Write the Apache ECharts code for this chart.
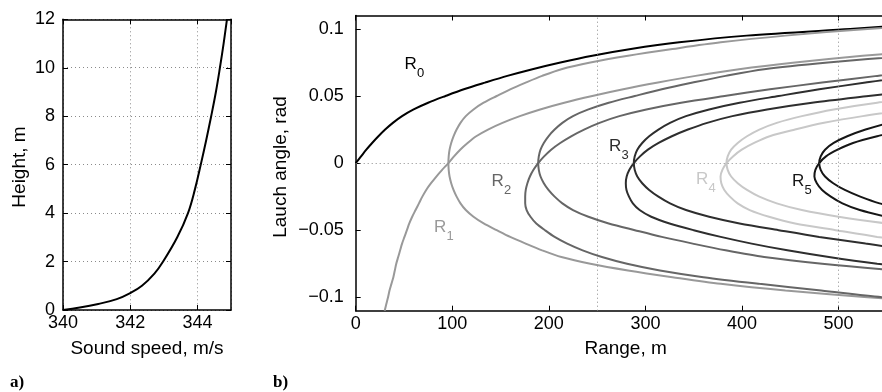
<!DOCTYPE html>
<html><head><meta charset="utf-8">
<script src="https://cdn.jsdelivr.net/npm/echarts@6/dist/echarts.min.js"></script>
<style>html,body{margin:0;padding:0;background:#fff}#c{width:882px;height:392px}</style>
</head><body><div id="c"></div>
<script>
// ---------- panel a: sound speed profile ----------
const heightM    = [0, 0.1, 0.25, 0.45, 0.7, 1.0, 1.5, 2, 3, 4, 5, 6, 7, 8, 9, 10, 11, 12];
const soundSpeed = [340, 340.5, 341.05, 341.6, 342, 342.35, 342.72, 342.98, 343.4, 343.72, 343.93, 344.1, 344.26, 344.41, 344.55, 344.67, 344.78, 344.88];

// ---------- panel b: range (m) of each ray branch vs launch angle (rad) ----------
const launchAngle = [-0.11,-0.105,-0.1,-0.095,-0.09,-0.085,-0.08,-0.075,-0.07,-0.065,-0.06,-0.055,-0.05,-0.045,-0.04,-0.035,-0.03,-0.025,-0.02,-0.015,-0.01,-0.005,
  0,0.005,0.01,0.015,0.02,0.025,0.03,0.035,0.04,0.045,0.05,0.055,0.06,0.065,0.07,0.075,0.08,0.085,0.09,0.095,0.1,0.105,0.11];
const n = null;
const rangeR0  = [n,n,n,n,n,n,n,n,n,n,n,n,n,n,n,n,n,n,n,n,n,n,
  0,5.5,11,17,23.5,30.5,38.5,48,60,75,93,112,134,157,183,212,245,285,335,405,512,620,750];
const rangeR1a = [30,31.7,33.5,35,37,39,40.5,42,44,46,48,50.5,53,55.5,58.5,62,65.5,69,73,78,83.5,89.5,
  96,101.8,108.2,115.9,124.8,137,152,170,191,216,245,277,313,352,397,455,525,610,n,n,n,n,n];
const rangeR1b = [780,640,530,445,378,328,282,243,213,193,176,160,146,132.5,122,114,108.5,104.5,101.3,98.9,97.2,96.3,
  96,96.3,97.2,98.9,101.3,104.5,108.5,114,122,132.5,146,160,176,193,213,243,282,328,378,445,530,640,780];
const rangeR2a = [807,657,545,482,418,360,315,281,255,235,219,206,196,187,181,177,175.5,175.5,176.1,177.8,180.4,184.1,
  189,195.1,202.4,211.8,223.1,236.5,252.5,273,301,337,382,429,483,540,606,n,n,n,n,n,n,n,n];
const rangeR2b = [n,n,n,n,n,653,561,483,423,383,349,317,289,262,241,225,214,206,199.6,194.8,191.4,189.6,
  189,189.6,191.4,194.8,199.6,206,214,225,241,262,289,317,349,383,423,489,572,653,n,n,n,n,n];
const rangeR3a = [n,n,n,n,n,670,600,540,490,447,410,378,350,325,306,294,287,283,280.4,279.7,280.6,283.4,
  288,294.4,302.6,313.7,327.4,344,364,390,426,472.5,531,592,n,n,n,n,n,n,n,n,n,n,n];
const rangeR3b = [n,n,n,n,n,n,n,n,639,579,528,480,438,397.5,366,342,325.5,313.5,303.9,296.7,291.6,288.9,
  288,288.9,291.6,296.7,303.9,313.5,325.5,342,366,397.5,438,480,528,579,639,n,n,n,n,n,n,n,n];
const rangeR4a = [n,n,n,n,n,n,n,n,n,n,590,540,497,455,428,408,395.5,387.5,381.7,378.6,377.8,379.7,
  384,390.7,399.8,412.6,428.7,455,485,525,575,n,n,n,n,n,n,n,n,n,n,n,n,n,n];
const rangeR4b = [n,n,n,n,n,n,n,n,n,n,n,n,610,550,500,462,436,418,405.2,395.6,388.8,385.2,
  384,385.2,388.8,395.6,405.2,418,436,462,495,540,600,n,n,n,n,n,n,n,n,n,n,n,n];
const rangeR5a = [n,n,n,n,n,n,n,n,n,n,n,n,n,n,550,522,504,492,483,477.5,475,476,
  480,487,499,515,540,570,n,n,n,n,n,n,n,n,n,n,n,n,n,n,n,n,n];
const rangeR5b = [n,n,n,n,n,n,n,n,n,n,n,n,n,n,n,570,542.5,522.5,506.5,494.5,486,481.5,
  480,481.5,486,495,509,528,552,580,n,n,n,n,n,n,n,n,n,n,n,n,n,n,n];

const rayLabels = ['0','1','2','3','4','5'];
const labelAnchor = [[50.5,0.0694],[81.2,-0.0522],[140.5,-0.0179],[262.3,0.0082],[352.4,-0.0164],[451.7,-0.0179]];
const rayColors = ['#000000','#999999','#666666','#2e2e2e','#c8c8c8','#161616'];

const FONT = 'Liberation Sans, Arial, Helvetica, sans-serif';
const chart = echarts.init(document.getElementById('c'), null, {renderer:'canvas'});

function pairs(arr){ const out=[]; arr.forEach((r,i)=>{ if(r!==null) out.push([r, launchAngle[i]]); }); return out; }

const axisLineStyle = {color:'#000', width:1.5};
const gridLine = {show:true, lineStyle:{color:'#8a8a8a', width:1, type:[1,3]}};
const tickIn = {show:true, inside:true, length:5, lineStyle:{color:'#000', width:1}};
const aLine = {onZero:false, lineStyle:axisLineStyle};

const curves = [
  {d:rangeR0, c:0},{d:rangeR1a, c:1},{d:rangeR1b, c:1},{d:rangeR2a, c:2},{d:rangeR2b, c:2},
  {d:rangeR3a, c:3},{d:rangeR3b, c:3},{d:rangeR4a, c:4},{d:rangeR4b, c:4},{d:rangeR5a, c:5},{d:rangeR5b, c:5}
];

const series = [];
series.push({
  type:'line', xAxisIndex:0, yAxisIndex:0, showSymbol:false, smooth:0.4,
  data: heightM.map((h,i)=>[soundSpeed[i], h]), lineStyle:{color:'#000', width:2}, silent:true, z:5
});
series.push({
  type:'line', xAxisIndex:2, yAxisIndex:2, data:[], silent:true,
  markLine:{symbol:'none', silent:true, label:{show:false},
    lineStyle:{color:'#8a8a8a', width:1, type:[1,3]},
    data:[{xAxis:250},{xAxis:500},{yAxis:0}]}
});
curves.forEach(cv=>{
  series.push({type:'line', xAxisIndex:2, yAxisIndex:2, showSymbol:false, smooth:0.3,
    clip:true, data:pairs(cv.d), lineStyle:{color:rayColors[cv.c], width:2}, silent:true, z:3});
});

const option = {
  animation:false,
  backgroundColor:'#fff',
  textStyle:{fontFamily:FONT},
  grid:[
    {left:63, top:19.3, width:168, height:290.7},
    {left:355.7, top:15.5, width:532.5, height:295.2}
  ],
  xAxis:[
    {gridIndex:0, type:'value', min:340, max:345, interval:2, position:'bottom',
     axisLine:aLine, axisTick:tickIn, splitLine:gridLine,
     axisLabel:{color:'#000', fontSize:18, margin:4, fontFamily:FONT, showMaxLabel:false}},
    {gridIndex:0, type:'value', min:340, max:345, interval:2, position:'top',
     axisLine:aLine, axisTick:tickIn, splitLine:{show:false}, axisLabel:{show:false}},
    {gridIndex:1, type:'value', min:0, max:545, interval:100, position:'bottom',
     axisLine:aLine, axisTick:tickIn, splitLine:{show:false},
     axisLabel:{color:'#000', fontSize:18, margin:4, fontFamily:FONT, showMaxLabel:false}},
    {gridIndex:1, type:'value', min:0, max:545, interval:100, position:'top',
     axisLine:aLine, axisTick:tickIn, splitLine:{show:false}, axisLabel:{show:false}}
  ],
  yAxis:[
    {gridIndex:0, type:'value', min:0, max:12, interval:2, position:'left',
     axisLine:aLine, axisTick:tickIn, splitLine:gridLine,
     axisLabel:{color:'#000', fontSize:18, margin:8, fontFamily:FONT}},
    {gridIndex:0, type:'value', min:0, max:12, interval:2, position:'right',
     axisLine:aLine, axisTick:tickIn, splitLine:{show:false}, axisLabel:{show:false}},
    {gridIndex:1, type:'value', min:-0.11, max:0.11, position:'left',
     axisLine:aLine,
     axisTick:Object.assign({customValues:[-0.1,-0.05,0,0.05,0.1]}, tickIn),
     splitLine:{show:false},
     axisLabel:{color:'#000', fontSize:18, margin:12, fontFamily:FONT, customValues:[-0.1,-0.05,0,0.05,0.1],
       formatter:v=>String(+v.toFixed(2)).replace('-','\u2212')}}
  ],
  series:series
};
chart.setOption(option);

const g = [];
g.push({type:'text', x:147, y:349, style:{text:'Sound speed, m/s', font:'19px '+FONT, fill:'#000', textAlign:'center', textVerticalAlign:'middle'}});
g.push({type:'text', x:20, y:167, rotation:Math.PI/2, style:{text:'Height, m', font:'19px '+FONT, fill:'#000', textAlign:'center', textVerticalAlign:'middle'}});
g.push({type:'text', x:625.6, y:349, style:{text:'Range, m', font:'19px '+FONT, fill:'#000', textAlign:'center', textVerticalAlign:'middle'}});
g.push({type:'text', x:281, y:167, rotation:Math.PI/2, style:{text:'Lauch angle, rad', font:'19px '+FONT, fill:'#000', textAlign:'center', textVerticalAlign:'middle'}});
g.push({type:'text', x:10, y:383, style:{text:'a)', font:'bold 17px Liberation Serif, DejaVu Serif, serif', fill:'#000', textVerticalAlign:'middle'}});
g.push({type:'text', x:273, y:383, style:{text:'b)', font:'bold 17px Liberation Serif, DejaVu Serif, serif', fill:'#000', textVerticalAlign:'middle'}});
labelAnchor.forEach((p,i)=>{
  const px = chart.convertToPixel({xAxisIndex:2, yAxisIndex:2}, p);
  g.push({type:'text', x:px[0], y:px[1]+3, style:{text:'R', font:'17px '+FONT, fill:rayColors[i], textVerticalAlign:'bottom'}});
  g.push({type:'text', x:px[0]+12.5, y:px[1]+10, style:{text:rayLabels[i], font:'13px '+FONT, fill:rayColors[i], textVerticalAlign:'bottom'}});
});
chart.setOption({graphic:g});
</script>
</body></html>
